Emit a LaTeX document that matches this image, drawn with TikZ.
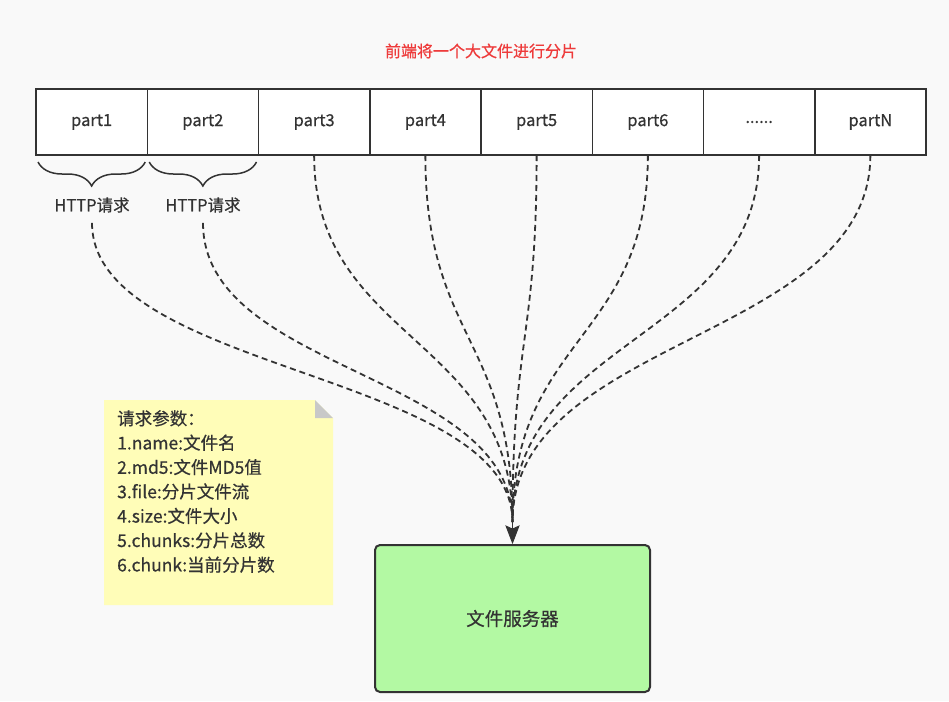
\documentclass[tikz,border=0pt]{standalone}
\usepackage{fontspec}
\setmainfont[FakeBold=0.6]{Noto Sans CJK SC}
\usetikzlibrary{arrows.meta,decorations.pathreplacing,calc}
\definecolor{bg}{HTML}{F9F9F9}
\definecolor{ink}{HTML}{333333}
\definecolor{titlered}{HTML}{EE3B3B}
\definecolor{srvgreen}{HTML}{B3F9A3}
\definecolor{noteyellow}{HTML}{FFFDB8}
\definecolor{foldgray}{HTML}{C8C8C8}
\tikzset{
  partbox/.style={draw=ink, line width=1.5pt, fill=white, minimum width=111.25pt,
    minimum height=66pt, inner sep=0pt, outer sep=0pt, text=ink,
    font=\fontsize{16.5}{19}\selectfont},
  lbl/.style={inner sep=0pt, text=ink, font=\fontsize{16.5}{19}\selectfont},
  bracestyle/.style={draw=ink, line width=1.5pt,
    decorate, decoration={brace, mirror, amplitude=24pt}},
  flow/.style={draw=ink, line width=1.8pt, dash pattern=on 6pt off 4pt},
  tipstem/.style={draw=ink, line width=1.8pt},
  tiphead/.style={fill=ink, draw=ink, line width=0.8pt, line join=miter},
  srvbox/.style={draw=ink, line width=2pt, fill=srvgreen, rounded corners=5pt,
    minimum width=275pt, minimum height=147pt, inner sep=0pt, text=ink,
    font=\fontsize{18.5}{21}\selectfont},
}
\begin{document}
\begin{tikzpicture}[x=1pt, y=-1pt]
\fill[bg] (0,0) rectangle (949,701);
\useasboundingbox (0,0) rectangle (949,701);

% title
\node[text=titlered, font=\fontsize{16}{19}\selectfont, inner sep=0pt] (title) at (481,51) {前端将一个大文件进行分片};

% parts
\foreach \i/\t in {1/part1,2/part2,3/part3,4/part4,5/part5,6/part6,7/{......},8/partN}{
  \node[partbox] (p\i) at ({36+111.25*(\i-0.5)},122) {\t};
}

% braces
\draw[bracestyle] ([xshift=2pt,yshift=-7pt]p1.south west) -- ([xshift=-2pt,yshift=-7pt]p1.south east);
\draw[bracestyle] ([xshift=2pt,yshift=-7pt]p2.south west) -- ([xshift=-2pt,yshift=-7pt]p2.south east);

\node[lbl] (h1) at (92,205) {HTTP请求};
\node[lbl] (h2) at (203,205) {HTTP请求};

% server
\node[srvbox] (srv) at (512.5,618.5) {文件服务器};

% note
\fill[noteyellow] (104,400) -- (315,400) -- (333,418) -- (333,605) -- (104,605) -- cycle;
\fill[foldgray] (315,400) -- (315,418) -- (333,418) -- cycle;
\node[anchor=north west, align=left, inner sep=0pt, text=ink,
  font=\fontsize{17.5}{24.4}\selectfont] (note) at (117,410)
  {请求参数：\\1.name:文件名\\2.md5:文件MD5值\\3.file:分片文件流\\4.size:文件大小\\5.chunks:分片总数\\6.chunk:当前分片数};

% flows
\coordinate (tipbase) at ([yshift=22pt]srv.north);
\foreach \h in {h1,h2}{
  \draw[flow] ([yshift=-10pt]\h.south) .. controls +(0,150) and +(0,-150) .. (tipbase);
}
\foreach \i in {3,...,8}{
  \draw[flow] (p\i.south) .. controls +(0,185) and +(0,-185) .. (tipbase);
}
\draw[tipstem] (tipbase) -- ([yshift=12pt]srv.north);
\fill[tiphead] ([yshift=1pt]srv.north) -- ([xshift=-6.5pt,yshift=18pt]srv.north)
  -- ([yshift=15pt]srv.north) -- ([xshift=6.5pt,yshift=18pt]srv.north) -- cycle;
\end{tikzpicture}
\end{document}
